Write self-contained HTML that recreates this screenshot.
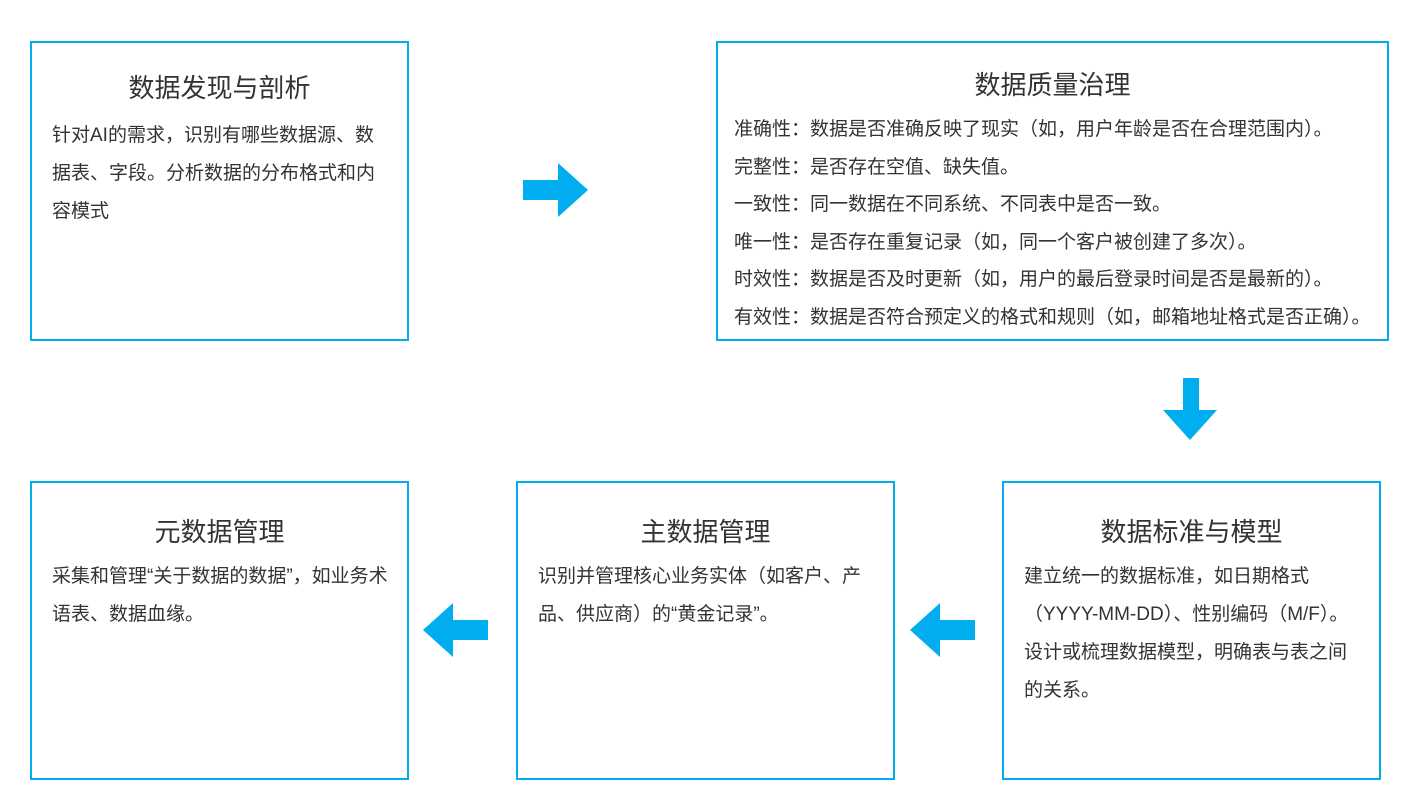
<!DOCTYPE html>
<html><head><meta charset="utf-8"><style>
body{margin:0;width:1415px;height:790px;background:#fff;position:relative;overflow:hidden;font-family:"Liberation Sans","Noto Sans CJK SC",sans-serif;color:#333}
.b{position:absolute;border:2px solid #00aeef;box-sizing:border-box}
.t{position:absolute;left:0;right:0;text-align:center;font-size:26px;line-height:30px;color:#333}
.p{position:absolute;left:20px;font-size:19px;line-height:38px;white-space:nowrap}
svg{position:absolute;left:0;top:0}
</style></head><body>
<div class="b" style="left:30px;top:41px;width:379px;height:300px">
<div class="t" style="top:30px">数据发现与剖析</div>
<div class="p" style="top:74px">针对AI的需求，识别有哪些数据源、数<br>据表、字段。分析数据的分布格式和内<br>容模式</div></div>
<div class="b" style="left:716px;top:41px;width:673px;height:300px">
<div class="t" style="top:27px">数据质量治理</div>
<div class="p" style="left:16px;top:68px;line-height:37.5px">准确性：数据是否准确反映了现实（如，用户年龄是否在合理范围内）。<br>完整性：是否存在空值、缺失值。<br>一致性：同一数据在不同系统、不同表中是否一致。<br>唯一性：是否存在重复记录（如，同一个客户被创建了多次）。<br>时效性：数据是否及时更新（如，用户的最后登录时间是否是最新的）。<br>有效性：数据是否符合预定义的格式和规则（如，邮箱地址格式是否正确）。</div></div>
<div class="b" style="left:30px;top:481px;width:379px;height:299px">
<div class="t" style="top:34px">元数据管理</div>
<div class="p" style="top:75px">采集和管理“关于数据的数据”，如业务术<br>语表、数据血缘。</div></div>
<div class="b" style="left:516px;top:481px;width:379px;height:299px">
<div class="t" style="top:34px">主数据管理</div>
<div class="p" style="top:75px">识别并管理核心业务实体（如客户、产<br>品、供应商）的“黄金记录”。</div></div>
<div class="b" style="left:1002px;top:481px;width:379px;height:299px">
<div class="t" style="top:34px">数据标准与模型</div>
<div class="p" style="top:75px">建立统一的数据标准，如日期格式<br>（YYYY-MM-DD）、性别编码（M/F）。<br>设计或梳理数据模型，明确表与表之间<br>的关系。</div></div>
<svg width="1415" height="790">
<g fill="#00aeef">
<polygon points="523,180 558,180 558,163 588,190 558,217 558,200 523,200"/>
<polygon points="1183,378 1199,378 1199,410 1217,410 1190,440 1163,410 1183,410"/>
<polygon points="488,620 453,620 453,603 423,630 453,657 453,640 488,640"/>
<polygon points="975,620 940,620 940,603 910,630 940,657 940,640 975,640"/>
</g></svg>
</body></html>
